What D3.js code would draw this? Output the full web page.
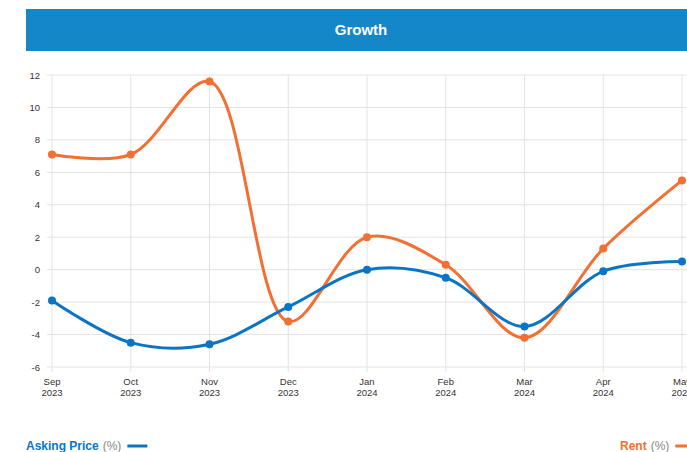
<!DOCTYPE html>
<html>
<head>
<meta charset="utf-8">
<script src="https://cdn.jsdelivr.net/npm/d3@7"></script>
<style>
  body { margin: 0; background: #fff; overflow: hidden; }
  svg { display: block; font-family: "Liberation Sans", Arial, sans-serif; }
</style>
</head>
<body>
<svg id="chart" width="687" height="452"></svg>
<script>
// Growth – Asking Price vs Rent (%)

const months = ["Sep", "Oct", "Nov", "Dec", "Jan", "Feb", "Mar", "Apr", "May"];
const years = ["2023", "2023", "2023", "2023", "2024", "2024", "2024", "2024", "2024"];
const askingPrice = [-1.9, -4.5, -4.6, -2.3, 0.0, -0.5, -3.5, -0.1, 0.5];
const rent = [7.1, 7.1, 11.6, -3.2, 2.0, 0.3, -4.2, 1.3, 5.5];
const yTicks = [-6, -4, -2, 0, 2, 4, 6, 8, 10, 12];

const BLUE = "#0b74c4";
const ORANGE = "#f36f32";

const svg = d3.select("#chart");

// header band
svg.append("rect")
  .attr("x", 26).attr("y", 9)
  .attr("width", 700).attr("height", 42)
  .attr("fill", "#1487c9");

svg.append("text")
  .attr("x", 361).attr("y", 35)
  .attr("text-anchor", "middle")
  .attr("fill", "#fff")
  .attr("font-size", 15)
  .attr("font-weight", "bold")
  .text("Growth");

const margin = { left: 52, top: 75 };
const step = 78.75;
const innerHeight = 292;

const x = d3.scalePoint()
  .domain(months.map((m, i) => i))
  .range([margin.left, margin.left + step * (months.length - 1)]);

const y = d3.scaleLinear()
  .domain([-6, 12])
  .range([margin.top + innerHeight, margin.top]);

// horizontal grid
svg.append("g")
  .selectAll("line")
  .data(yTicks)
  .join("line")
  .attr("x1", 47).attr("x2", 700)
  .attr("y1", d => y(d)).attr("y2", d => y(d))
  .attr("stroke", "#e3e3e3")
  .attr("stroke-width", 1);

// vertical grid
svg.append("g")
  .selectAll("line")
  .data(months.map((m, i) => i))
  .join("line")
  .attr("x1", d => x(d)).attr("x2", d => x(d))
  .attr("y1", y(12)).attr("y2", y(-6) + 5)
  .attr("stroke", "#e3e3e3")
  .attr("stroke-width", 1);

// y tick labels
svg.append("g")
  .selectAll("text")
  .data(yTicks)
  .join("text")
  .attr("x", 40)
  .attr("y", d => y(d) + 3.5)
  .attr("text-anchor", "end")
  .attr("font-size", 9.5)
  .attr("fill", "#333")
  .text(d => d);

// x tick labels (two lines)
const xl = svg.append("g")
  .selectAll("text")
  .data(months.map((m, i) => i))
  .join("text")
  .attr("text-anchor", "middle")
  .attr("font-size", 9.5)
  .attr("fill", "#333");
xl.append("tspan")
  .attr("x", d => x(d)).attr("y", 385)
  .text(d => months[d]);
xl.append("tspan")
  .attr("x", d => x(d)).attr("y", 396)
  .text(d => years[d]);

const line = d3.line()
  .x((d, i) => x(i))
  .y(d => y(d))
  .curve(d3.curveCatmullRom.alpha(0.5));

function drawSeries(values, color) {
  svg.append("path")
    .datum(values)
    .attr("d", line)
    .attr("fill", "none")
    .attr("stroke", color)
    .attr("stroke-width", 3);

  svg.append("g")
    .selectAll("circle")
    .data(values)
    .join("circle")
    .attr("cx", (d, i) => x(i))
    .attr("cy", d => y(d))
    .attr("r", 4)
    .attr("fill", color);
}

drawSeries(rent, ORANGE);
drawSeries(askingPrice, BLUE);

// legend
function legendItem(xPos, label, color) {
  const t = svg.append("text")
    .attr("x", xPos).attr("y", 450)
    .attr("font-size", 12);
  t.append("tspan")
    .attr("fill", color)
    .attr("font-weight", "bold")
    .text(label);
  t.append("tspan")
    .attr("fill", "#888")
    .attr("dx", 4)
    .text("(%)");
  const w = t.node().getComputedTextLength();
  svg.append("line")
    .attr("x1", xPos + w + 10).attr("x2", xPos + w + 30)
    .attr("y1", 446).attr("y2", 446)
    .attr("stroke", color)
    .attr("stroke-width", 3);
}

legendItem(26, "Asking Price", BLUE);
legendItem(620, "Rent", ORANGE);
</script>
</body>
</html>
